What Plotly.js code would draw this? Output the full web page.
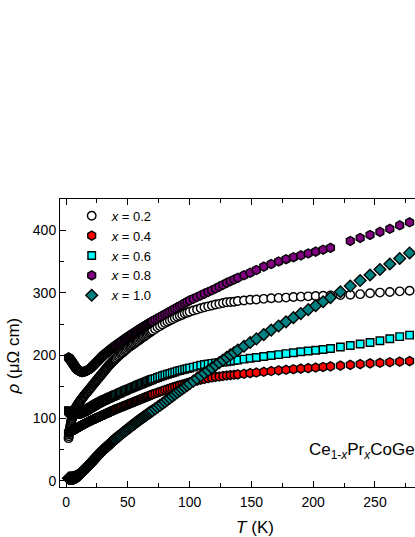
<!DOCTYPE html>
<html>
<head>
<meta charset="utf-8">
<script src="https://cdn.plot.ly/plotly-3.0.1.min.js"></script>
<style>
html,body{margin:0;padding:0;overflow:hidden;background:#fff;width:415px;height:537px;}
#chart{width:460px;height:537px;}
</style>
</head>
<body>
<div id="chart"></div>
<script>
// Temperature (K): shared grid, dense at low T like the measurement
var temps = [
2,2.2,2.4,2.6,2.8,3,3.2,3.4,3.6,3.8,4,4.2,4.4,4.6,4.8,5,5.2,5.4,5.6,5.8,6,
6.25,6.5,6.75,7,7.25,7.5,7.75,8,8.25,8.5,8.75,9,9.25,9.5,9.75,10,10.25,10.5,10.75,11,11.25,11.5,11.75,12,
12.5,13,13.5,14,14.5,15,15.5,16,16.5,17,17.5,18,18.5,19,19.5,20,20.5,21,21.5,22,22.5,23,23.5,24,24.5,25,25.5,26,26.5,27,27.5,28,28.5,29,29.5,30,30.5,31,31.5,32,32.5,33,33.5,34,34.5,35,35.5,36,36.5,37,37.5,38,38.5,39,39.5,40,
41,42,43,44,45,46,47,48,49,50,51,52,53,54,55,56,57,58,59,60,61,62,63,64,65,66,67,68,69,70,
72,74,76,78,80,82,84,86,88,90,92,94,96,98,100,
103,106,109,112,115,118,121,124,127,130,133,136,139,
144,149,154,160,166,172,178,184,190,196,202,208,214,
222,230,238,246,254,262,270,278];

// Resistivity rho (micro-ohm cm)
var rhoX02 = [
68,71,74,76.5,79.5,82,84.5,86.5,88.5,91,93,95,96.5,98.5,100,102,103,104.5,105.5,107,108,
109.5,110.5,111.5,112.5,113.5,115,116,117,118,118.5,119.5,120,121,121.5,122.5,123,124,124.5,125.5,126,127,127.5,128.5,129,
130.5,131.5,133,134.5,135.5,137,138,139.5,140.5,141.5,143,144,145,146.5,147.5,149,150,151.5,152.5,154,155,156,157.5,158.5,160,161,162,163.5,164.5,166,167,168,169.5,170.5,172,173,174,175.5,176.5,178,179,180,181.5,182.5,184,185,186,187,188,189,190,191,192,193,194,195,
196.5,198.5,200,202,203.5,205,207,208.5,210,212,213.5,215,216,217.5,219,220.5,222,223,224.5,226,227.5,229,230,231.5,233,234.5,236,237,238.5,240,
242.5,245,247,249.5,252,254,256,258,260,262,263.5,265,267,268.5,270,
272,273.5,275.5,277,278.5,280,281.5,282.5,284,285,285.5,286,287,
288,289,289.5,290.5,291.5,292,292.5,293.5,294,294.5,295,295.5,296,
296.5,297,298,299.5,300.5,301.5,302.5,303.5];

var rhoX04 = [
77,77.2,77.4,77.6,77.8,78,78.2,78.4,78.6,78.8,79,79.2,79.4,79.6,79.8,80,80.2,80.4,80.6,80.8,81,
81.3,81.6,81.8,82.1,82.4,82.7,83,83.3,83.5,83.8,84.1,84.4,84.7,84.9,85.2,85.5,85.8,86.1,86.3,86.6,86.9,87.2,87.5,87.7,
88.3,88.8,89.4,89.9,90.5,91,91.5,92,92.5,93,93.5,94,94.5,95,95.5,96,96.5,96.9,97.4,97.8,98.3,98.7,99.2,99.6,100.1,100.5,101,101.4,101.9,102.3,102.8,103.2,103.7,104.1,104.6,105,105.5,105.9,106.4,106.8,107.3,107.7,108.2,108.6,109.1,109.5,110,110.4,110.9,111.3,111.8,112.2,112.7,113.1,113.6,114,
114.8,115.6,116.4,117.2,118,118.8,119.6,120.4,121.2,122,122.8,123.6,124.4,125.2,126,126.8,127.6,128.4,129.2,130,130.8,131.6,132.4,133.2,134,134.8,135.6,136.4,137.2,138,
139.4,140.8,142.2,143.6,145,146.3,147.6,148.9,150.2,151.5,152.6,153.7,154.8,155.9,157,
158.5,160,161.5,162.7,163.8,164.8,165.8,166.5,167.3,168,168.6,169.2,169.8,
170.8,171.8,172.8,174,175.2,176.3,177.2,178.1,179,179.9,180.8,181.7,182.6,
183.8,185,186.2,187.4,188.4,189.3,190.2,191];

var rhoX06 = [
112,111.6,111.2,110.8,110.4,110,109.6,109.2,108.8,108.4,108,107.8,107.6,107.4,107.2,107,106.8,106.6,106.4,106.2,106,
106,106,106,106,106,106,106,106,106.1,106.3,106.4,106.5,106.6,106.8,106.9,107,107.2,107.4,107.6,107.8,108,108.2,108.4,108.6,
109,109.4,109.8,110.2,110.6,111,111.6,112.2,112.8,113.4,114,114.6,115.2,115.8,116.4,117,117.6,118.2,118.8,119.4,120,120.6,121.2,121.8,122.4,123,123.5,124,124.5,125,125.5,126,126.5,127,127.5,128,128.5,128.9,129.4,129.8,130.3,130.7,131.2,131.6,132.1,132.5,133,133.4,133.9,134.3,134.8,135.2,135.7,136.1,136.6,137,
137.9,138.8,139.7,140.6,141.5,142.4,143.3,144.2,145.1,146,146.8,147.6,148.4,149.2,150,150.8,151.6,152.4,153.2,154,154.8,155.6,156.4,157.2,158,158.8,159.6,160.4,161.2,162,
163.4,164.8,166.2,167.6,169,170.2,171.4,172.6,173.8,175,176,177,178,179,180,
181.5,183,184.5,185.6,186.5,187.4,188.2,188.8,189.4,190,190.9,191.8,192.7,
194.2,195.7,196.9,198.5,200,201.5,203,204.5,206,207.2,208.4,209.6,211.2,
213.6,216,218.4,220.8,223.6,226.8,230.2,232.6];

var rhoX08 = [
197,196.5,196,195.5,195,194.5,194,193.5,193,192.5,192,191.4,190.8,190.2,189.6,189,188.4,187.8,187.2,186.6,186,
185.3,184.5,183.8,183,182.3,181.5,180.8,180,179.5,179,178.5,178,177.5,177,176.5,176,175.8,175.5,175.3,175,174.8,174.5,174.3,174,
173.8,173.5,173.7,174,174.3,174.5,174.8,175,175.5,176,176.5,177,177.8,178.5,179.3,180,181,182,183,184,185,186,187,188,189,190,191,192,193,194,195,196,197,198,199,200,200.8,201.6,202.4,203.2,204,204.8,205.6,206.4,207.2,208,208.8,209.6,210.4,211.2,212,212.8,213.6,214.4,215.2,216,
217.4,218.8,220.2,221.6,223,224.4,225.8,227.2,228.6,230,231.3,232.6,233.9,235.2,236.5,237.8,239.1,240.4,241.7,243,244.2,245.4,246.6,247.8,249,250.2,251.4,252.6,253.8,255,
257.2,259.4,261.6,263.8,266,268.2,270.4,272.6,274.8,277,279.2,281.4,283.6,285.8,288,
290.7,293.4,296.1,298.8,301.5,304.2,307,310,313,316,318.7,321.4,324.1,
328.2,332.2,336.6,342,346.2,350.2,353.8,357,360,363,366,369,372,
null,383,387.8,392.6,397.4,402.4,408,412.8];

var rhoX10 = [
4,4,4,4,4,4,4,4,4,4,4,4,4.1,4.2,4.2,4.3,4.3,4.4,4.4,4.5,4.5,
4.7,4.9,5.1,5.3,5.4,5.6,5.8,6,6.3,6.6,6.9,7.3,7.6,7.9,8.2,8.5,8.9,9.4,9.8,10.3,10.7,11.1,11.6,12,
12.9,13.8,14.8,15.7,16.6,17.5,18.6,19.6,20.7,21.7,22.8,23.8,24.9,25.9,27,28,29.1,30.2,31.3,32.4,33.5,34.6,35.7,36.8,37.9,39,40,41,42,43,44,45,46,47,48,49,49.9,50.8,51.7,52.6,53.5,54.4,55.3,56.2,57.1,58,58.9,59.8,60.7,61.6,62.5,63.4,64.3,65.2,66.1,67,
68.6,70.2,71.8,73.4,75,76.6,78.2,79.8,81.4,83,84.5,86,87.5,89,90.5,92,93.5,95,96.5,98,99.4,100.8,102.2,103.6,105,106.4,107.8,109.2,110.6,112,
114.8,117.6,120.4,123.2,126,129,132,135,138,141,143.8,146.6,149.4,152.2,155,
159.2,163.4,167.6,171.8,176,180.2,184.4,188.6,192.8,197,200.9,204.8,208.7,
214.8,220.8,226.6,233.5,240.6,247.2,253.8,260.4,267,273.3,279.6,285.9,292.6,
301.8,311,319.8,328.6,337.4,346.2,355,363.8];

var seriesNames = ['<i>x</i> = 0.2','<i>x</i> = 0.4','<i>x</i> = 0.6','<i>x</i> = 0.8','<i>x</i> = 1.0'];
var seriesData = [rhoX02, rhoX04, rhoX06, rhoX08, rhoX10];
var fillColors = ['#FFFFFF','#FF0000','#00FFFF','#800080','#008080'];
var symbols = ['circle','hexagon','square','hexagon','diamond'];
var sizes = [8.5,9,7.5,9,9];

var traces = seriesData.map(function(r,i){
  return {
    x: temps, y: r, type:'scatter', mode:'markers', name: seriesNames[i],
    marker:{symbol:symbols[i], size:sizes[i], color:fillColors[i], line:{color:'#000000', width:1.4}},
    connectgaps:false
  };
});

var font = 'Liberation Sans, Arial, Helvetica, sans-serif';
var layout = {
  width:460, height:537,
  margin:{l:60, r:10, t:199, b:50},
  paper_bgcolor:'#fff', plot_bgcolor:'#fff',
  font:{family:font, color:'#000', size:14},
  showlegend:true,
  legend:{x:0.03, y:0.994, xanchor:'left', yanchor:'top', bgcolor:'rgba(0,0,0,0)',
          font:{family:font, size:13, color:'#000'}, tracegroupgap:0, itemsizing:'trace'},
  xaxis:{range:[-4.9,310.7], showgrid:false, zeroline:false,
         showline:true, linecolor:'#000', linewidth:1, mirror:'allticks',
         ticks:'inside', ticklen:6, tickwidth:1, tickcolor:'#000',
         tick0:0, dtick:50, ticklabelstandoff:2,
         minor:{ticks:'inside', ticklen:4, tickwidth:1, tickcolor:'#000', dtick:25, showgrid:false},
         tickfont:{family:font, size:14, color:'#000'},
         title:{text:'<i>T</i> (K)', font:{family:font, size:17, color:'#000'}, standoff:12}},
  yaxis:{range:[-10,450], showgrid:false, zeroline:false,
         showline:true, linecolor:'#000', linewidth:1, mirror:'allticks',
         ticks:'inside', ticklen:6, tickwidth:1, tickcolor:'#000',
         tick0:0, dtick:100,
         minor:{ticks:'inside', ticklen:4, tickwidth:1, tickcolor:'#000', dtick:50, showgrid:false},
         tickfont:{family:font, size:14, color:'#000'}},
  annotations:[{
    x:194.7, y:48, xref:'x', yref:'y', xanchor:'left', yanchor:'middle', showarrow:false,
    text:'Ce<sub>1-<i>x</i></sub>Pr<sub><i>x</i></sub>CoGe<sub>3</sub>',
    font:{family:font, size:17, color:'#000'}
  },{
    x:-0.118, y:0.4566, xref:'paper', yref:'paper', xanchor:'center', yanchor:'middle',
    showarrow:false, textangle:-90,
    text:'<i>ρ</i> (μΩ cm)',
    font:{family:font, size:17, color:'#000'}
  }]
};

Plotly.newPlot('chart', traces, layout, {displayModeBar:false, staticPlot:true});
</script>
</body>
</html>
